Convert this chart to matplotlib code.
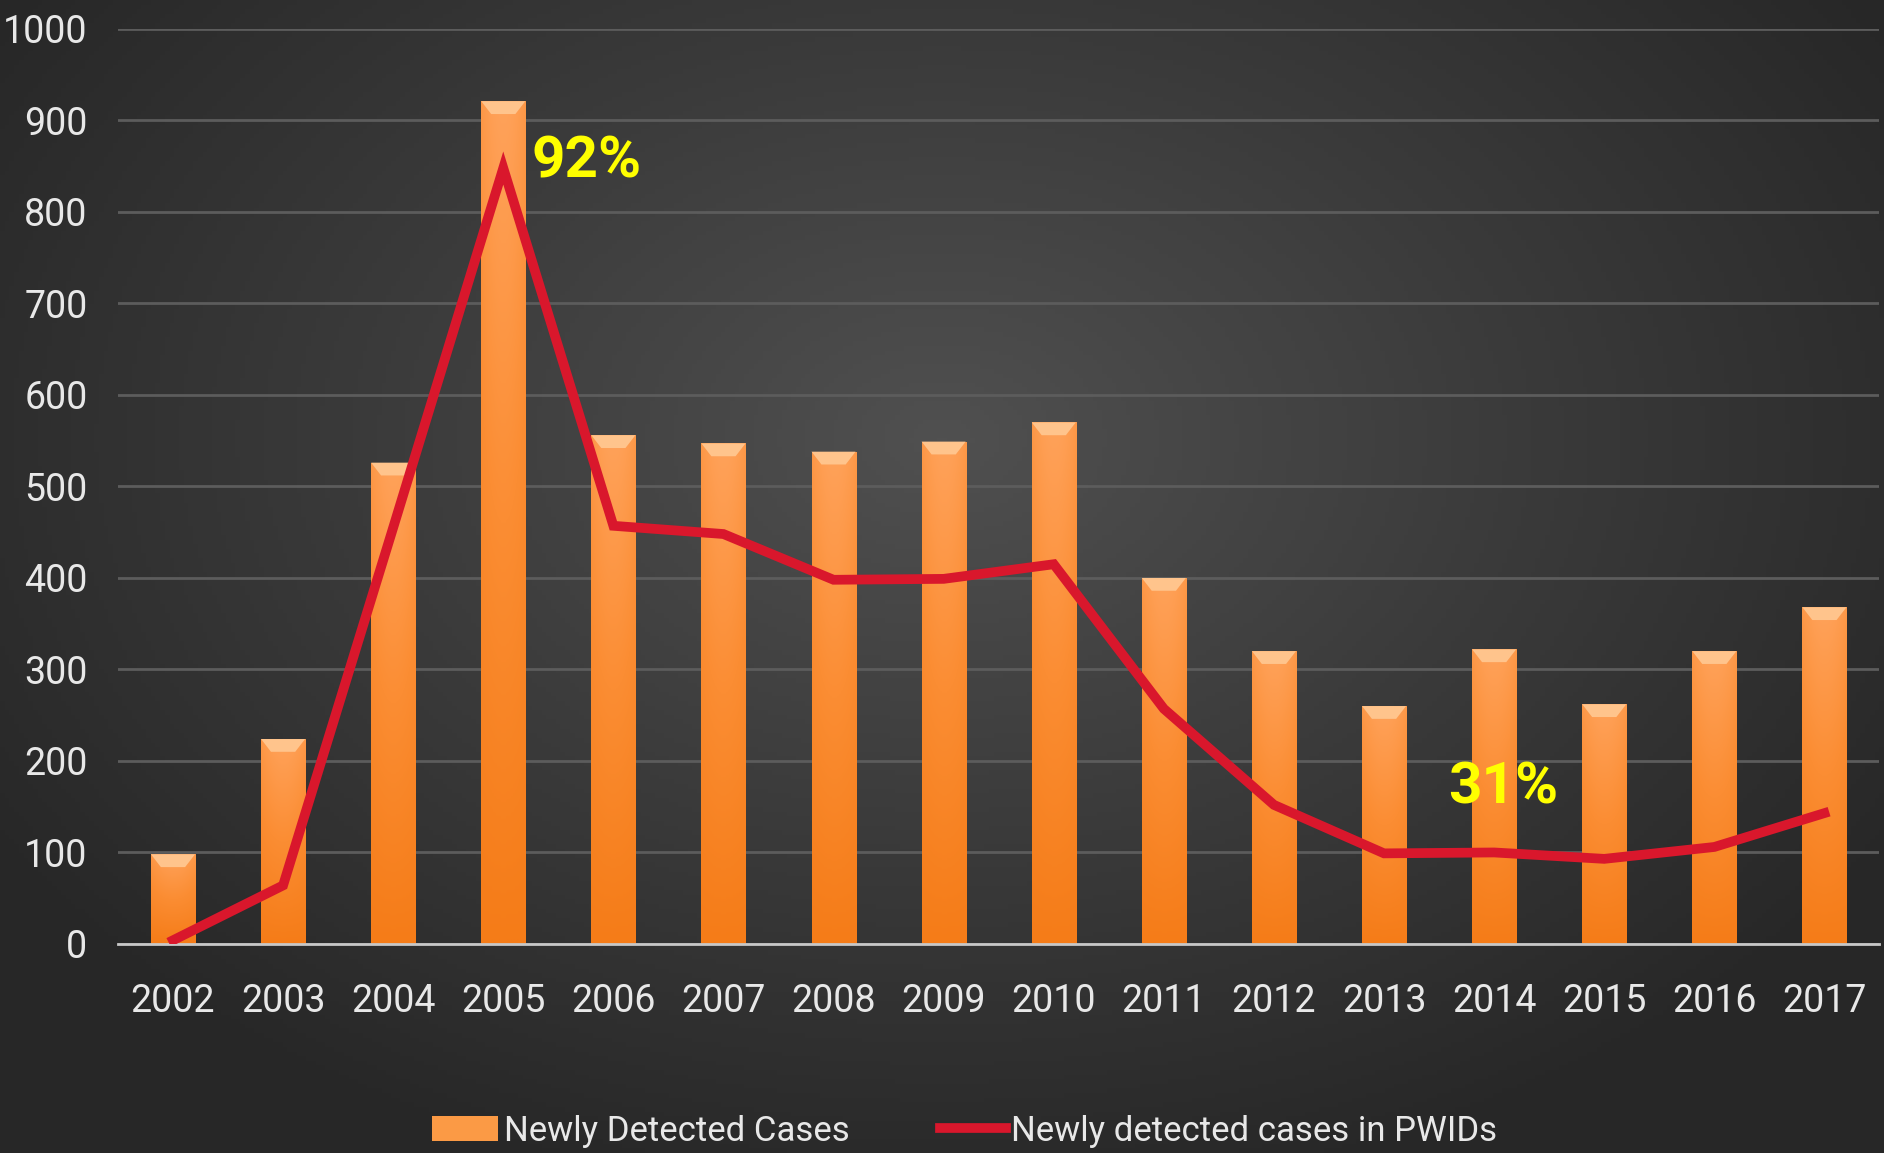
import numpy as np
import matplotlib
matplotlib.use('Agg')
import matplotlib.pyplot as plt
from matplotlib.colors import LinearSegmentedColormap
from matplotlib.patches import Polygon, Patch
from matplotlib.lines import Line2D


years = ['2002', '2003', '2004', '2005', '2006', '2007', '2008', '2009',
         '2010', '2011', '2012', '2013', '2014', '2015', '2016', '2017']
new_cases = [98, 224, 526, 921, 556, 547, 538, 549,
             570, 400, 320, 260, 322, 262, 320, 368]
pwid_cases = [4, 64, 455, 848, 457, 448, 398, 399,
              415, 257, 152, 99, 100, 93, 106, 143]
yticks = [0, 100, 200, 300, 400, 500, 600, 700, 800, 900, 1000]
notes = [('92%', 3.26, 855), ('31%', 11.58, 170)]

font = ['DejaVu Sans Condensed', 'Roboto', 'DejaVu Sans']
plt.rcParams['font.family'] = font
plt.rcParams['font.stretch'] = 'condensed'

fig = plt.figure(figsize=(18.84, 11.53), dpi=100)

# dark radial background
bg = fig.add_axes([0, 0, 1, 1], zorder=-10)
gx, gy = np.meshgrid(np.linspace(0, 1, 400), np.linspace(0, 1, 250))
d = np.sqrt(((gx - 0.5) / 0.75) ** 2 + ((gy - 0.62) / 0.85) ** 2)
bgcmap = LinearSegmentedColormap.from_list('bg', ['#505050', '#3b3b3b', '#272727'])
bg.imshow(d, cmap=bgcmap, aspect='auto', extent=[0, 1, 0, 1], origin='lower', vmin=0, vmax=0.8)
bg.axis('off')

ax = fig.add_axes([0.0626, 0.1813, 0.935, 0.7936])
ax.set_facecolor('none')
x = np.arange(len(years))
w = 0.40

bars = ax.bar(x, new_cases, width=w, color='#f9872a', zorder=2)
barcmap = LinearSegmentedColormap.from_list('bar', ['#f57c18', '#fb8d33', '#ffa25a'])
grad = np.linspace(0, 1, 256).reshape(-1, 1)
horiz = 1 - 0.25 * np.abs(np.linspace(-1, 1, 64)).reshape(1, -1) ** 2
for b, v in zip(bars, new_cases):
    bx = b.get_x()
    img = ax.imshow(grad * horiz, cmap=barcmap, aspect='auto', origin='lower',
                    extent=[bx, bx + w, 0, v], zorder=2.1, vmin=0, vmax=1)
    img.set_clip_path(b)
    # bevel on the top
    bev = 14
    dx = 0.09
    ax.add_patch(Polygon([(bx, v), (bx + w, v), (bx + w - dx, v - bev), (bx + dx, v - bev)],
                         closed=True, color='#ffc48c', lw=0, zorder=2.2))

ax.plot(x, pwid_cases, color='#d9172c', lw=7, zorder=3, solid_joinstyle='miter')

for txt, tx, ty in notes:
    ax.text(tx, ty, txt, color='#ffff00', fontsize=42, fontweight='bold',
            ha='left', va='center', zorder=4)

ax.set_xlim(-0.5, 15.5)
ax.set_ylim(0, 1000)
ax.set_yticks(yticks)
ax.set_xticks(x)
ax.set_xticklabels(years)
ax.yaxis.grid(True, color='#5c5c5c', lw=2, zorder=0)
ax.set_axisbelow(True)
for s in ['top', 'right', 'left']:
    ax.spines[s].set_visible(False)
ax.spines['bottom'].set_color('#c8c8c8')
ax.spines['bottom'].set_linewidth(2)
ax.spines['bottom'].set_zorder(2.5)
ax.tick_params(axis='both', length=0, colors='#e8e8e8', labelsize=27)
ax.tick_params(axis='y', pad=22)
ax.tick_params(axis='x', pad=28)

handles = [Patch(facecolor='#fb9a45', edgecolor='none'),
           Line2D([0], [0], color='#d9172c', lw=7)]
fig.legend(handles, ['Newly Detected Cases', 'Newly detected cases in PWIDs'],
           loc='center', bbox_to_anchor=(0.512, 0.019), ncol=2, frameon=False,
           fontsize=25, labelcolor='#e8e8e8', handlelength=1.9, handletextpad=0.15,
           columnspacing=2.6)

fig.savefig('out.png', dpi=100)
